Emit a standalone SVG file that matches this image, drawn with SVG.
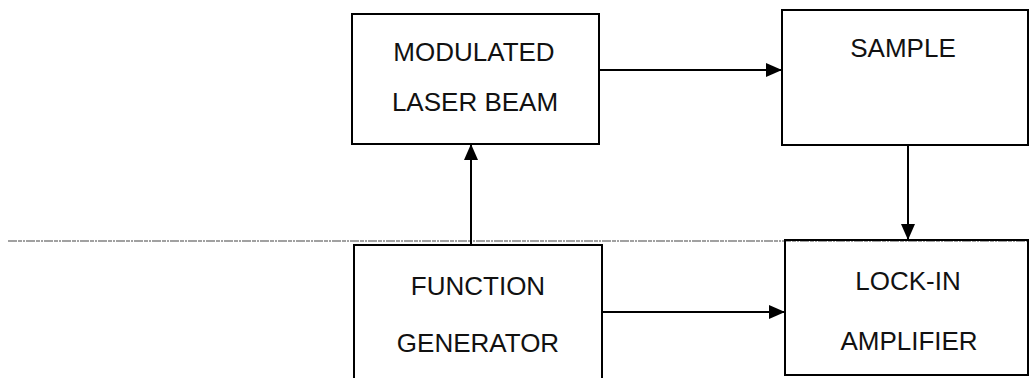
<svg xmlns="http://www.w3.org/2000/svg" width="1029" height="378" viewBox="0 0 1029 378">
<style>
.box{fill:none;stroke:#000;stroke-width:2}
.lbl{font-family:"Liberation Sans",Arial,sans-serif;font-size:26px;fill:#111;text-anchor:middle}
.con{stroke:#000;stroke-width:2;fill:none;marker-end:url(#ah)}
.sep{stroke:#444;stroke-width:1.2;stroke-dasharray:9 1 4 1 2 1}
</style>
<defs>
<marker id="ah" viewBox="0 0 16 14" refX="16" refY="7" markerWidth="16" markerHeight="14" markerUnits="userSpaceOnUse" orient="auto">
<path d="M0,0 L16,7 L0,14 Z" fill="#000"/>
</marker>
</defs>
<rect width="1029" height="378" fill="#fff"/>
<line class="sep" x1="8" y1="241" x2="1029" y2="241"/>
<g id="modulated-laser-beam">
<rect class="box" x="352" y="14" width="247" height="130"/>
<text class="lbl" x="474" y="61">MODULATED</text>
<text class="lbl" x="475" y="111">LASER BEAM</text>
</g>
<g id="sample">
<rect class="box" x="782" y="10" width="246" height="135"/>
<text class="lbl" x="903" y="57">SAMPLE</text>
</g>
<g id="function-generator">
<path class="box" d="M354,380 V245 H602 V380"/>
<text class="lbl" x="478" y="295">FUNCTION</text>
<text class="lbl" x="478" y="352">GENERATOR</text>
</g>
<g id="lock-in-amplifier">
<rect class="box" x="785" y="240" width="243" height="135"/>
<text class="lbl" x="908" y="290">LOCK-IN</text>
<text class="lbl" x="909" y="350">AMPLIFIER</text>
</g>
<g id="connectors">
<line class="con" x1="599" y1="70" x2="782" y2="70"/>
<line class="con" x1="908" y1="145" x2="908" y2="240"/>
<line class="con" x1="471" y1="245" x2="471" y2="144"/>
<line class="con" x1="602" y1="312" x2="785" y2="312"/>
</g>
</svg>
